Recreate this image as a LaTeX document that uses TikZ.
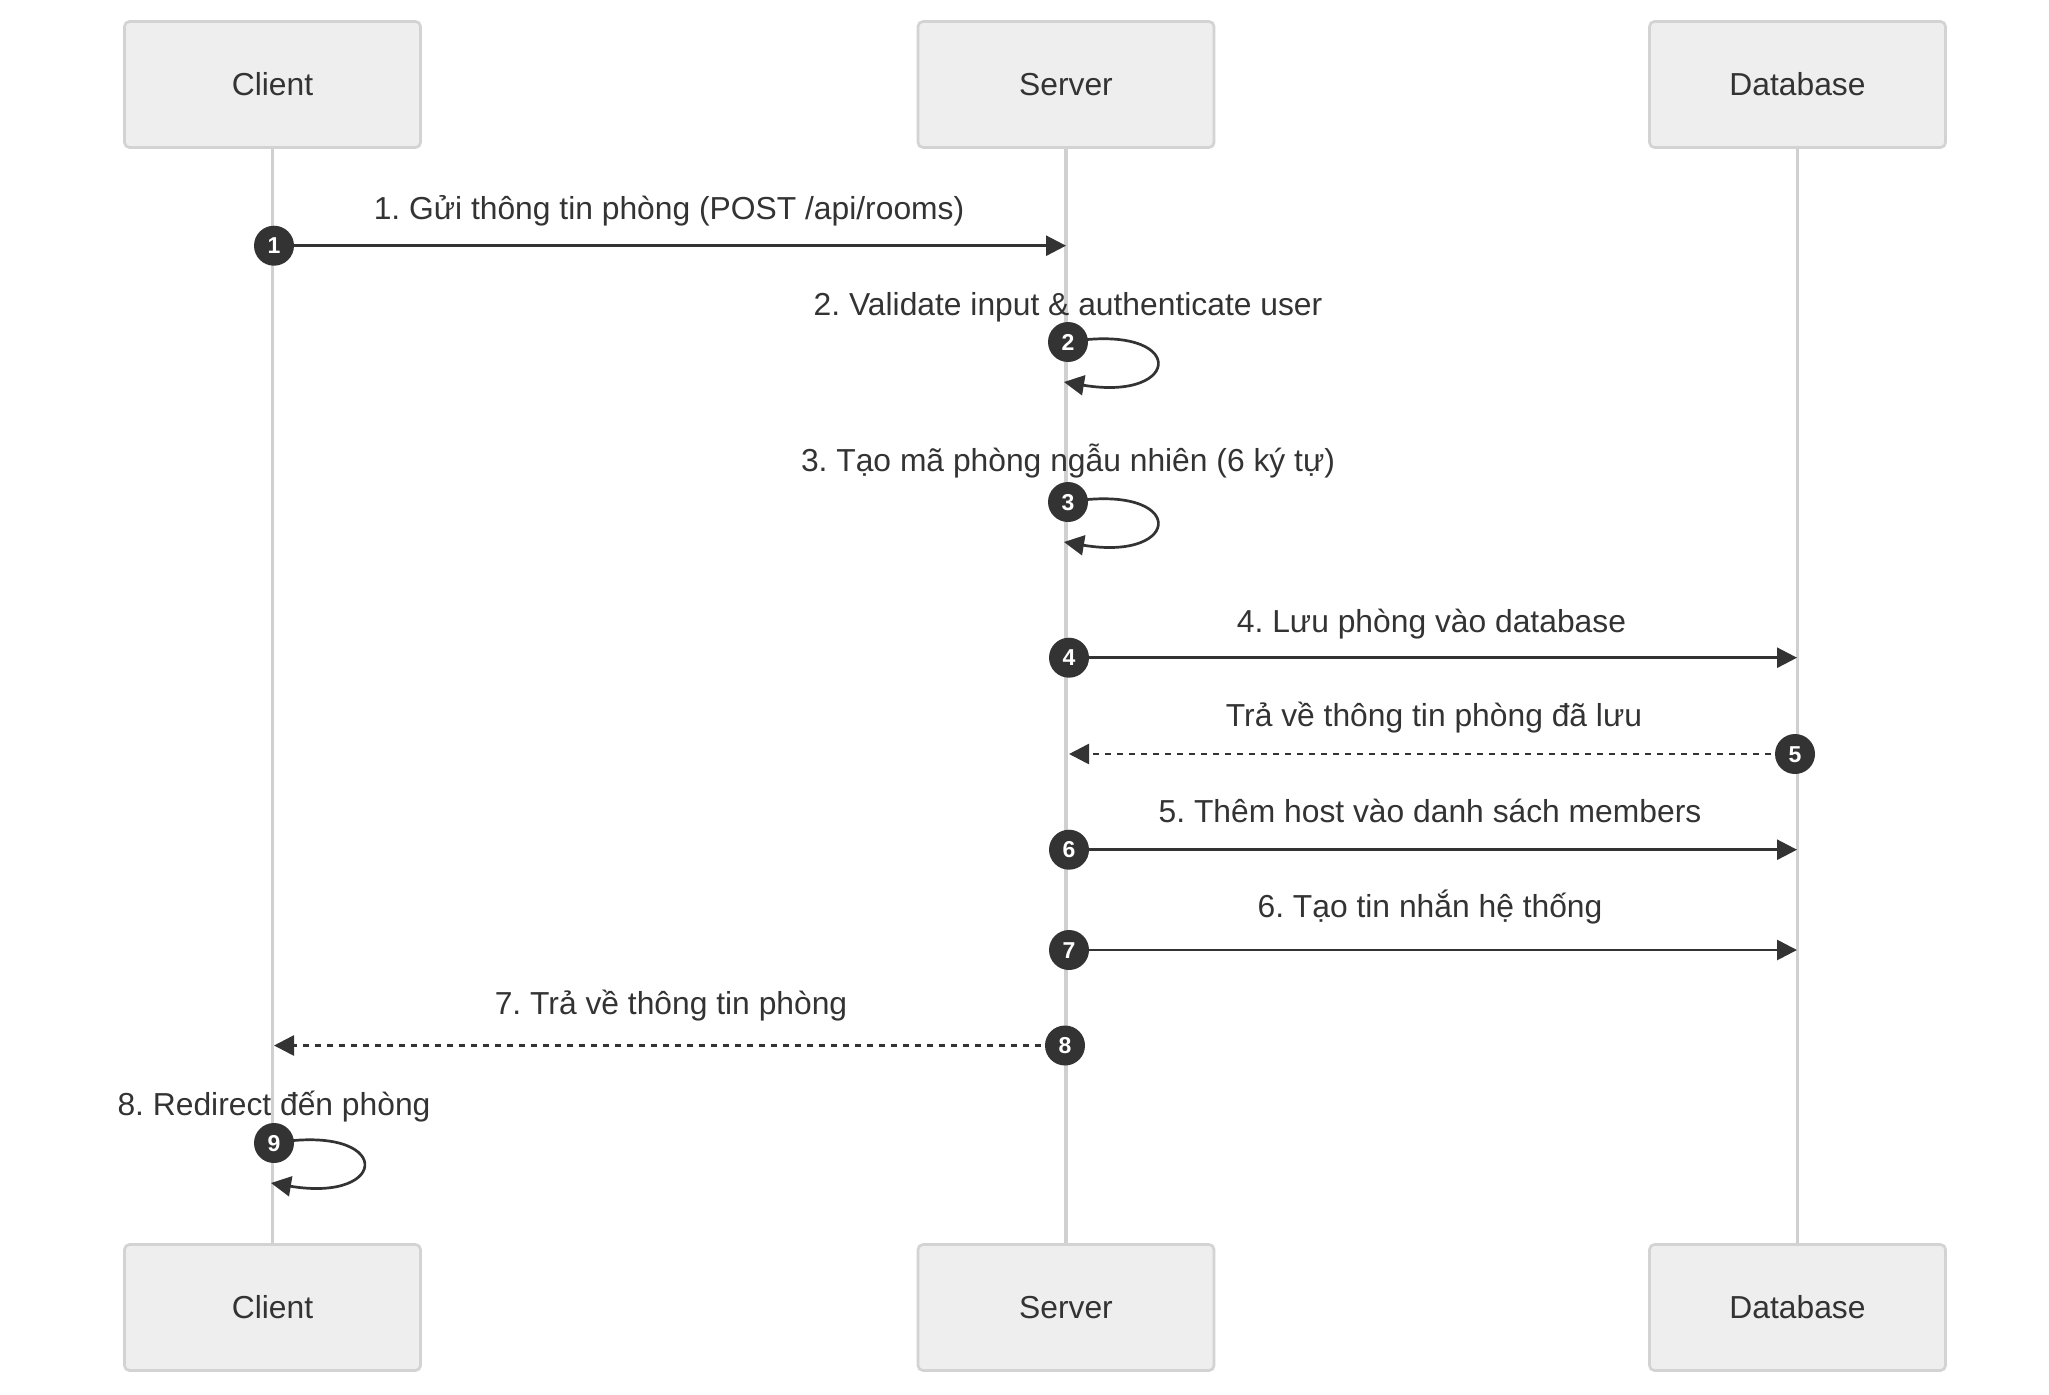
\documentclass[tikz,border=0pt]{standalone}
\usepackage{fontspec}
\setmainfont{Liberation Sans}
\usetikzlibrary{arrows.meta}
\definecolor{ink}{HTML}{333333}
\definecolor{boxfill}{HTML}{EEEEEE}
\definecolor{boxline}{HTML}{D3D3D3}
\definecolor{lifeline}{HTML}{D0D0D0}
\pgfdeclarelayer{bg}
\pgfsetlayers{bg,main}
\frenchspacing
\tikzset{
  actor/.style={draw=boxline, fill=boxfill, line width=2.7pt, rounded corners=5pt,
    minimum width=296pt, minimum height=126pt, inner sep=0pt,
    text=ink, font=\fontsize{31.8}{38}\selectfont, text height=22.8pt, text depth=0pt},
  life/.style={draw=lifeline, line width=3.3pt},
  msg/.style={draw=ink, line width=2.7pt, -{Triangle[length=20pt, width=20pt]}},
  reply/.style={msg, dash pattern=on 6.5pt off 5.5pt},
  seq/.style={circle, fill=ink, minimum size=40pt, inner sep=0pt, text=white,
    font=\bfseries\fontsize{23}{27}\selectfont, text height=16.4pt, text depth=0pt},
  lbl/.style={anchor=base, inner sep=0pt, text=ink, font=\fontsize{31.8}{38}\selectfont},
  selfloop/.style={msg, to path={.. controls ([xshift=120pt,yshift=20pt]\tikztostart)
    and ([xshift=120pt,yshift=-20pt]\tikztotarget) .. (\tikztotarget)}}
}
\begin{document}
\begin{tikzpicture}[x=1pt, y=-1pt]
\useasboundingbox (0,0) rectangle (2049,1394);

% participants, top and bottom
\node[actor] (cTop) at (272.5,84.5) {Client};
\node[actor] (sTop) at (1066,84.5) {Server};
\node[actor] (dTop) at (1797.5,84.5) {Database};
\node[actor] (cBot) at (272.5,1307.5) {Client};
\node[actor] (sBot) at (1066,1307.5) {Server};
\node[actor] (dBot) at (1797.5,1307.5) {Database};

% sequence number badges
\node[seq] (n1) at (274,245.7) {1};
\node[seq] (n2) at (1068,342) {2};
\node[seq] (n3) at (1068,502) {3};
\node[seq] (n4) at (1069,657.7) {4};
\node[seq] (n5) at (1795,754) {5};
\node[seq] (n6) at (1069,849.7) {6};
\node[seq] (n7) at (1069,950) {7};
\node[seq] (n8) at (1065,1045.5) {8};
\node[seq] (n9) at (274,1143) {9};

% arrow end points on the lifelines
\coordinate (e1) at (1066,245.7);
\coordinate (e2) at (1064,382);
\coordinate (e3) at (1064,542);
\coordinate (e4) at (1797,657.7);
\coordinate (e5) at (1069,754);
\coordinate (e6) at (1797,849.7);
\coordinate (e7) at (1797,950);
\coordinate (e8) at (274,1045.5);
\coordinate (e9) at (271,1183);

\begin{pgfonlayer}{bg}
  \draw[life] (cTop.south) -- (cBot.north);
  \draw[life] (sTop.south) -- (sBot.north);
  \draw[life] (dTop.south) -- (dBot.north);

  \draw[msg] (n1.center) -- (e1);
  \draw[selfloop] (n2.center) to (e2);
  \draw[selfloop] (n3.center) to (e3);
  \draw[msg] (n4.center) -- (e4);
  \draw[reply] (n5.center) -- (e5);
  \draw[msg] (n6.center) -- (e6);
  \draw[msg] (n7.center) -- (e7);
  \draw[reply] (n8.center) -- (e8);
  \draw[selfloop] (n9.center) to (e9);
\end{pgfonlayer}

% message labels
\node[lbl] (t1) at (669,219.3) {1. Gửi thông tin phòng (POST /api/rooms)};
\node[lbl] (t2) at (1068,315.7) {2. Validate input \& authenticate user};
\node[lbl] (t3) at (1068,471.7) {3. Tạo mã phòng ngẫu nhiên (6 ký tự)};
\node[lbl] (t4) at (1431.5,632.3) {4. Lưu phòng vào database};
\node[lbl] (t5) at (1434,726.7) {Trả về thông tin phòng đã lưu};
\node[lbl] (t6) at (1430,822.3) {5. Thêm host vào danh sách members};
\node[lbl] (t7) at (1430,917.7) {6. Tạo tin nhắn hệ thống};
\node[lbl] (t8) at (671,1014.3) {7. Trả về thông tin phòng};
\node[lbl] (t9) at (274,1115) {8. Redirect đến phòng};
\end{tikzpicture}
\end{document}
